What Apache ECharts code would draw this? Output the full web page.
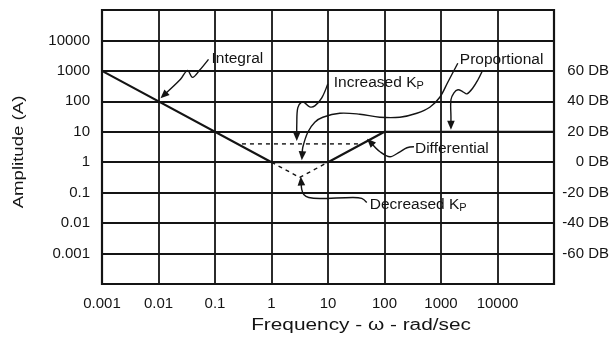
<!DOCTYPE html>
<html>
<head>
<meta charset="utf-8">
<script src="https://cdn.jsdelivr.net/npm/echarts@6/dist/echarts.min.js"></script>
<style>
  html, body { margin: 0; padding: 0; background: #fff; }
  #chart { width: 613px; height: 337px; }
</style>
</head>
<body>
<div id="chart"></div>
<script>
// tick labels
const freqTicks = [0.001, 0.01, 0.1, 1, 10, 100, 1000, 10000];
const freqLabels = ['0.001', '0.01', '0.1', '1', '10', '100', '1000', '10000'];
const ampTicks = [10000, 1000, 100, 10, 1, 0.1, 0.01, 0.001];
const ampLabels = ['10000', '1000', '100', '10', '1', '0.1', '0.01', '0.001'];
const dbTicks = [1000, 100, 10, 1, 0.1, 0.01, 0.001];
const dbLabels = ['60 DB', '40 DB', '20 DB', '0 DB', '-20 DB', '-40 DB', '-60 DB'];

// asymptotes, [frequency, amplitude]
const pidResponse = [[0.001, 1000], [1, 1], [10, 1], [100, 10], [100000, 10]];
const increasedKp = [[0.3, 4], [40, 4]];
const decreasedKp = [[1, 1], [3.16, 0.316], [10, 1]];

const INK = '#141414';
const FONT = '"Liberation Sans", Arial, sans-serif';

// callouts: arrow tip anchored on a data point, squiggle drawn as pixel offsets from it
const notes = [
  { text: 'Integral', at: [0.01, 100], label: [53, -43],
    path: [[2, -3], [22, -22], [29, -31], [34, -24], [41, -31], [50, -42]] },
  { text: 'Increased K{s|P}', at: [2.8, 4], label: [37, -61],
    path: [[0, -3], [0, -19], [1, -36], [5, -42], [8, -41], [13, -37], [18, -38], [25, -46], [31, -60]] },
  { text: 'Proportional', at: [3.3, 1], label: [159, -103],
    path: [[1, -2], [2, -15], [7, -30], [14, -40], [22, -45], [39, -49], [59, -48], [79, -45],
           [99, -45], [116, -49], [129, -55], [139, -65], [147, -80], [157, -99]] },
  { text: null, at: [1500, 10],
    path: [[0, -2], [0, -15], [0, -32], [3, -39], [7, -42], [12, -40], [16, -38], [22, -44], [27, -52], [31, -60]] },
  { text: 'Differential', at: [47, 4.7], label: [49, 7],
    path: [[1, -3], [7, 4], [14, 10], [24, 15], [34, 10], [41, 6], [48, 5]] },
  { text: 'Decreased K{s|P}', at: [3.16, 0.316], label: [70, 27],
    path: [[1, -1], [2, 12], [4, 17], [9, 20], [20, 21], [53, 20], [62, 21], [67, 25]] }
];

function tickLabel(value, ticks, labels) {
  const e = Math.log10(value);
  for (let i = 0; i < ticks.length; i++) {
    if (Math.abs(Math.log10(ticks[i]) - e) < 1e-6) return labels[i];
  }
  return '';
}

const chart = echarts.init(document.getElementById('chart'));

const labelStyle = { color: INK, fontSize: 15, fontFamily: FONT };

chart.setOption({
  animation: false,
  backgroundColor: '#fff',
  grid: {
    left: 102, right: 59, top: 10, bottom: 53,
    show: true, borderColor: INK, borderWidth: 2.2, backgroundColor: 'transparent'
  },
  xAxis: {
    type: 'log', logBase: 10, min: 0.001, max: 100000, interval: 1,
    axisLine: { show: false },
    axisTick: { show: false },
    splitLine: { show: true, lineStyle: { color: INK, width: 1.8 } },
    axisLabel: { ...labelStyle, margin: 12, formatter: (v) => tickLabel(v, freqTicks, freqLabels) }
  },
  yAxis: [
    {
      type: 'log', logBase: 10, min: 0.0001, max: 100000, interval: 1, position: 'left',
      axisLine: { show: false },
      axisTick: { show: false },
      splitLine: { show: true, lineStyle: { color: INK, width: 1.8 } },
      axisLabel: { ...labelStyle, margin: 12, formatter: (v) => tickLabel(v, ampTicks, ampLabels) }
    },
    {
      type: 'log', logBase: 10, min: 0.0001, max: 100000, interval: 1, position: 'right',
      axisLine: { show: false },
      axisTick: { show: false },
      splitLine: { show: false },
      axisLabel: { ...labelStyle, margin: 55, align: 'right', formatter: (v) => tickLabel(v, dbTicks, dbLabels) }
    }
  ],
  series: [
    { name: 'PID', type: 'line', data: pidResponse, symbol: 'none', z: 3,
      lineStyle: { color: INK, width: 2.2 } },
    { name: 'Increased Kp', type: 'line', data: increasedKp, symbol: 'none', z: 3,
      lineStyle: { color: INK, width: 1.4, type: [4, 4] } },
    { name: 'Decreased Kp', type: 'line', data: decreasedKp, symbol: 'none', z: 3,
      lineStyle: { color: INK, width: 1.4, type: [4, 4] } }
  ]
});

function buildNotes() {
  const els = [];
  const L = 9, H = 3.8;
  notes.forEach((n) => {
    const [ax, ay] = chart.convertToPixel({ xAxisIndex: 0, yAxisIndex: 0 }, n.at);
    const pts = n.path.map(([dx, dy]) => [ax + dx, ay + dy]);
    const tip = pts[0];
    let k = 1;
    while (k < pts.length - 1 && Math.hypot(pts[k][0] - tip[0], pts[k][1] - tip[1]) < L + 1) k++;
    let ux = tip[0] - pts[k][0], uy = tip[1] - pts[k][1];
    const len = Math.hypot(ux, uy);
    ux /= len; uy /= len;
    const bx = tip[0] - ux * L, by = tip[1] - uy * L;
    els.push({
      type: 'polygon', z: 10,
      shape: { points: [tip, [bx - uy * H, by + ux * H], [bx + uy * H, by - ux * H]] },
      style: { fill: INK }
    });
    els.push({
      type: 'polyline', z: 10,
      shape: { points: [[bx + ux * 2, by + uy * 2]].concat(pts.slice(k)), smooth: 0.35 },
      style: { stroke: INK, lineWidth: 1.4, fill: null }
    });
    if (n.text) {
      els.push({
        type: 'text', z: 10, x: ax + n.label[0], y: ay + n.label[1],
        style: {
          text: n.text, fill: INK, fontSize: 15.5, fontFamily: FONT, lineHeight: 18,
          align: 'left', verticalAlign: 'middle',
          rich: { s: { fill: INK, fontSize: 11, fontFamily: FONT, lineHeight: 10, verticalAlign: 'bottom' } }
        }
      });
    }
  });
  els.push({
    type: 'text', z: 10, x: 19, y: 152, rotation: Math.PI / 2, scaleX: 1.24,
    style: { text: 'Amplitude (A)', fill: INK, fontSize: 15, fontFamily: FONT, align: 'center', verticalAlign: 'middle' }
  });
  els.push({
    type: 'text', z: 10, x: 361, y: 326, scaleX: 1.3,
    style: { text: 'Frequency - ω - rad/sec', fill: INK, fontSize: 16, fontFamily: FONT, align: 'center', verticalAlign: 'middle' }
  });
  return els;
}

chart.setOption({ graphic: buildNotes() });
</script>
</body>
</html>
